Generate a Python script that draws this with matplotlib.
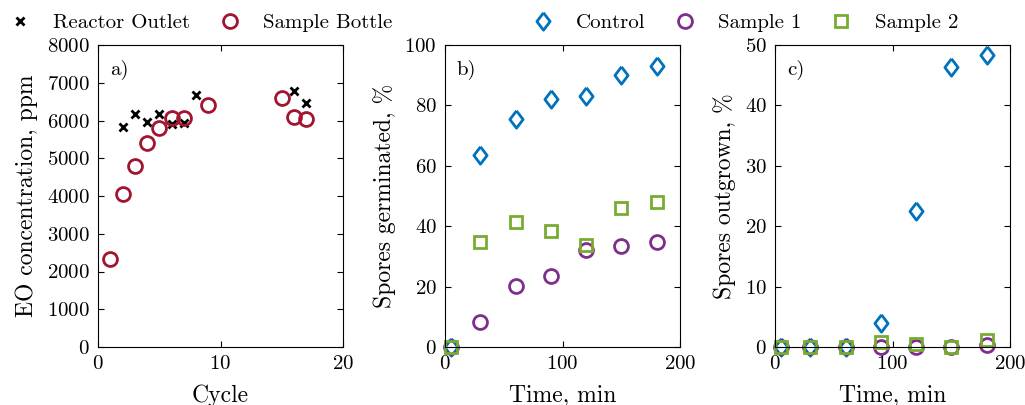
import matplotlib
matplotlib.use('Agg')
import matplotlib.pyplot as plt
from matplotlib.lines import Line2D

plt.rcParams['font.family'] = ['cmr10', 'DejaVu Serif']
plt.rcParams['mathtext.fontset'] = 'cm'
plt.rcParams['axes.formatter.use_mathtext'] = True
plt.rcParams['font.size'] = 15

# panel a data
cycle_outlet = [2, 3, 4, 5, 6, 7, 8, 16, 17]
eo_outlet = [5840, 6170, 5960, 6170, 5900, 5940, 6680, 6770, 6460]
cycle_bottle = [1, 2, 3, 4, 5, 6, 7, 9, 15, 16, 17]
eo_bottle = [2330, 4040, 4800, 5410, 5800, 6070, 6060, 6400, 6590, 6100, 6040]

# panels b and c data
time_min = [5, 30, 60, 90, 120, 150, 180]
germ_control = [0, 63.6, 75.4, 82, 83, 90, 93]
germ_s1 = [0, 8.4, 20.3, 23.5, 32, 33.5, 34.9]
germ_s2 = [0, 34.8, 41.3, 38.3, 33.9, 46.1, 47.9]
out_control = [0, 0, 0, 4.0, 22.5, 46.3, 48.3]
out_s1 = [0, 0, 0, 0, 0, 0, 0.3]
out_s2 = [0, 0, 0, 0.9, 0.45, 0, 1.2]

c_red = '#A2142F'
c_blue = '#0072BD'
c_purple = '#7E2F8E'
c_green = '#77AC30'

# matlab-like diamond, a bit wider than matplotlib's thin one
diamond = [(0, 1), (0.76, 0), (0, -1), (-0.76, 0), (0, 1)]

fig = plt.figure(figsize=(10.25, 4.05), dpi=100)
W, H = 1025.0, 405.0
ax_a = fig.add_axes([98 / W, 58 / H, 245 / W, 302 / H])
ax_b = fig.add_axes([445 / W, 58 / H, 235 / W, 302 / H])
ax_c = fig.add_axes([775 / W, 58 / H, 235 / W, 302 / H])

sty_x = dict(ls='none', marker='x', ms=6, mew=2, color='black')
sty_o = dict(ls='none', marker='o', ms=10, mew=2, mfc='none', color=c_red)
sty_d = dict(ls='none', marker=diamond, ms=12.5, mew=2, mfc='none', color=c_blue)
sty_c = dict(ls='none', marker='o', ms=10, mew=2, mfc='none', color=c_purple)
sty_s = dict(ls='none', marker='s', ms=8, mew=2, mfc='none', color=c_green)

ax_a.plot(cycle_outlet, eo_outlet, **sty_x)
ax_a.plot(cycle_bottle, eo_bottle, **sty_o)
ax_a.set_xlim(0, 20)
ax_a.set_ylim(0, 8000)
ax_a.set_xticks([0, 10, 20])
ax_a.set_yticks(range(0, 8001, 1000))
ax_a.set_xlabel('Cycle', fontsize=17)
ax_a.set_ylabel('EO concentration, ppm', fontsize=17)

for ax, yc, y1, y2 in [(ax_b, germ_control, germ_s1, germ_s2),
                       (ax_c, out_control, out_s1, out_s2)]:
    ax.plot(time_min, yc, clip_on=False, **sty_d)
    ax.plot(time_min, y1, clip_on=False, **sty_c)
    ax.plot(time_min, y2, clip_on=False, **sty_s)
    ax.set_xlim(0, 200)
    ax.set_xticks([0, 100, 200])
    ax.set_xlabel('Time, min', fontsize=17)

ax_b.set_ylim(0, 100)
ax_b.set_yticks(range(0, 101, 20))
ax_b.set_ylabel('Spores germinated, %', fontsize=17)
ax_c.set_ylim(0, 50)
ax_c.set_yticks(range(0, 51, 10))
ax_c.set_ylabel('Spores outgrown, %', fontsize=17)

for ax, lab in [(ax_a, 'a)'), (ax_b, 'b)'), (ax_c, 'c)')]:
    ax.tick_params(direction='in', top=True, right=True, length=4, labelsize=15, pad=6)
    ax.text(0.05, 0.95, lab, transform=ax.transAxes, ha='left', va='top', fontsize=15)
    ax.xaxis.labelpad = 8
    ax.yaxis.labelpad = 6

leg_kw = dict(loc='center', frameon=False, fontsize=15, handlelength=2.0,
              handletextpad=0.6, columnspacing=0.9)
h1 = [Line2D([], [], **sty_x), Line2D([], [], **sty_o)]
fig.legend(h1, ['Reactor Outlet', 'Sample Bottle'], ncol=2,
           bbox_to_anchor=(196 / W, 1 - 23 / H), **leg_kw)
h2 = [Line2D([], [], **sty_d), Line2D([], [], **sty_c), Line2D([], [], **sty_s)]
fig.legend(h2, ['Control', 'Sample 1', 'Sample 2'], ncol=3,
           bbox_to_anchor=(740 / W, 1 - 23 / H), **leg_kw)

fig.savefig('out.png', dpi=100)
